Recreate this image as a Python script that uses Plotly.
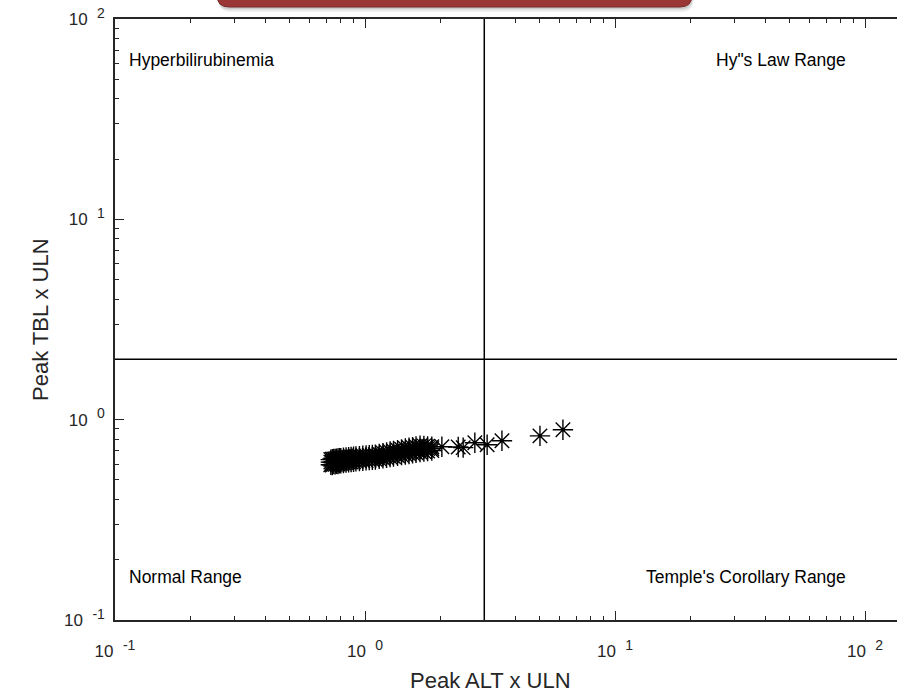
import plotly.graph_objects as go

# ---------------- data ----------------
cluster_alt = [0.73, 0.74, 0.75, 0.76, 0.77, 0.78, 0.79, 0.80, 0.82, 0.84, 0.86, 0.88,
               0.90, 0.92, 0.95, 0.98, 1.01, 1.04, 1.07, 1.10, 1.14, 1.18, 1.22, 1.26,
               1.30, 1.35, 1.40, 1.45, 1.50, 1.55, 1.60, 1.66, 1.72, 1.78, 1.85]
cluster_tbl_low = [0.596, 0.593, 0.600, 0.598, 0.603, 0.601, 0.605, 0.606, 0.608, 0.611, 0.613, 0.615,
                   0.617, 0.619, 0.621, 0.624, 0.626, 0.628, 0.630, 0.632, 0.637, 0.641, 0.646, 0.651,
                   0.655, 0.660, 0.665, 0.670, 0.674, 0.679, 0.684, 0.690, 0.694, 0.698, 0.702]
cluster_tbl_mid = [0.614, 0.612, 0.619, 0.616, 0.622, 0.620, 0.624, 0.625, 0.627, 0.630, 0.631, 0.634,
                   0.635, 0.638, 0.640, 0.641, 0.645, 0.646, 0.649, 0.650, 0.657, 0.660, 0.667, 0.671,
                   0.677, 0.682, 0.689, 0.693, 0.700, 0.704, 0.710, 0.716, 0.717, 0.718, 0.717]
cluster_tbl_high = [0.632, 0.634, 0.636, 0.637, 0.639, 0.640, 0.642, 0.643, 0.645, 0.647, 0.649, 0.651,
                    0.653, 0.655, 0.658, 0.660, 0.662, 0.664, 0.667, 0.669, 0.675, 0.681, 0.687, 0.693,
                    0.698, 0.705, 0.711, 0.718, 0.724, 0.729, 0.735, 0.742, 0.740, 0.736, 0.732]
outlier_alt = [2.03, 2.36, 2.47, 2.75, 3.08, 3.53, 5.01, 6.19]
outlier_tbl = [0.733, 0.730, 0.725, 0.767, 0.750, 0.785, 0.830, 0.890]

alt_threshold = 3.0
tbl_threshold = 2.0

x_tick_vals = [0.1, 1, 10, 100]
y_tick_vals = [0.1, 1, 10, 100]
tick_exponents = ["-1", "0", "1", "2"]
minor_vals = [m * 10 ** e for e in (-1, 0, 1, 2) for m in range(2, 10)]

quadrant_labels = ["Hyperbilirubinemia", "Hy\"s Law Range", "Normal Range", "Temple's Corollary Range"]
x_title = "Peak ALT x ULN"
y_title = "Peak TBL x ULN"

# ---------------- figure ----------------
W, H = 897, 693
ML, MR, MT, MB = 115, 0, 19, 73
PW, PH = W - ML - MR, H - MT - MB
FONT = "Liberation Sans, Arial, sans-serif"
INK = "#262626"

tick_text = [f"10\u00a0\u00a0<sup><span style='font-size:14px'>{e}</span></sup>" for e in tick_exponents]


def px(xp):
    return (xp - ML) / PW


def py(yp):
    return (H - MB - yp) / PH


all_alt = cluster_alt * 3 + outlier_alt
all_tbl = cluster_tbl_low + cluster_tbl_mid + cluster_tbl_high + outlier_tbl

fig = go.Figure()
fig.add_trace(go.Scatter(
    x=all_alt, y=all_tbl, mode="markers",
    marker=dict(symbol="asterisk-open", size=17, color="black",
                line=dict(color="black", width=1.4)),
    showlegend=False, hoverinfo="x+y",
))

# threshold lines
fig.add_shape(type="line", xref="x", yref="paper", x0=alt_threshold, x1=alt_threshold, y0=0, y1=1,
              line=dict(color="black", width=1.5))
fig.add_shape(type="line", xref="paper", yref="y", x0=0, x1=1, y0=tbl_threshold, y1=tbl_threshold,
              line=dict(color="black", width=1.5))

# red banner at the top (clipped)
L, R, T, B, r = 217, 692, -30, 7, 12


def banner_path(dx, dy, L=L, R=R, T=T, B=B, r=r):
    pts = [
        f"M {px(L+dx)},{py(T+dy)}",
        f"L {px(L+dx)},{py(B-r+dy)}",
        f"Q {px(L+dx)},{py(B+dy)} {px(L+r+dx)},{py(B+dy)}",
        f"L {px(R-r+dx)},{py(B+dy)}",
        f"Q {px(R+dx)},{py(B+dy)} {px(R+dx)},{py(B-r+dy)}",
        f"L {px(R+dx)},{py(T+dy)} Z",
    ]
    return " ".join(pts)


for d, a in ((5, 0.05), (3.5, 0.07), (2, 0.10)):
    fig.add_shape(type="path", xref="paper", yref="paper", path=banner_path(d * 0.3, d),
                  fillcolor=f"rgba(0,0,0,{a})", line=dict(width=0), layer="above")
fig.add_shape(type="path", xref="paper", yref="paper", path=banner_path(0, 0),
              fillcolor="#9a3636", line=dict(color="#7a2828", width=1), layer="above")

ann_font = dict(family=FONT, size=17.5, color="black")
fig.add_annotation(xref="paper", yref="paper", x=px(127), y=py(60), text=quadrant_labels[0],
                   showarrow=False, xanchor="left", yanchor="middle", font=ann_font)
fig.add_annotation(xref="paper", yref="paper", x=px(848), y=py(60), text=quadrant_labels[1],
                   showarrow=False, xanchor="right", yanchor="middle", font=ann_font)
fig.add_annotation(xref="paper", yref="paper", x=px(127), y=py(577), text=quadrant_labels[2],
                   showarrow=False, xanchor="left", yanchor="middle", font=ann_font)
fig.add_annotation(xref="paper", yref="paper", x=px(848), y=py(577), text=quadrant_labels[3],
                   showarrow=False, xanchor="right", yanchor="middle", font=ann_font)

title_font = dict(family=FONT, size=22, color=INK)
fig.add_annotation(xref="paper", yref="paper", x=px(490), y=py(680), text=x_title,
                   showarrow=False, xanchor="center", yanchor="middle", font=title_font)
fig.add_annotation(xref="paper", yref="paper", x=px(40), y=py(320), text=y_title, textangle=-90,
                   showarrow=False, xanchor="center", yanchor="middle", font=title_font)

axis_common = dict(
    type="log", showgrid=False, zeroline=False,
    showline=True, linecolor=INK, linewidth=1.5,
    ticks="inside", ticklen=9, tickwidth=1.3, tickcolor=INK,
    tickfont=dict(family=FONT, size=17, color=INK),
    minor=dict(tickvals=minor_vals, ticks="inside", ticklen=4.5, tickwidth=1.1, tickcolor=INK,
               showgrid=False),
)

fig.update_layout(
    width=W, height=H,
    margin=dict(l=ML, r=MR, t=MT, b=MB, pad=0),
    paper_bgcolor="white", plot_bgcolor="white",
    font=dict(family=FONT, color=INK),
    xaxis=dict(axis_common, range=[-1, -1 + PW / 250.0], tickvals=x_tick_vals, ticktext=tick_text,
               mirror="allticks", ticklabelstandoff=15),
    yaxis=dict(axis_common, range=[-1, 2], tickvals=y_tick_vals, ticktext=tick_text,
               mirror=False, ticklabelstandoff=5),
    showlegend=False,
)

fig.write_html("out.html", config={"displayModeBar": False},
               post_script="document.body.style.margin='0';document.body.style.overflow='hidden';")
